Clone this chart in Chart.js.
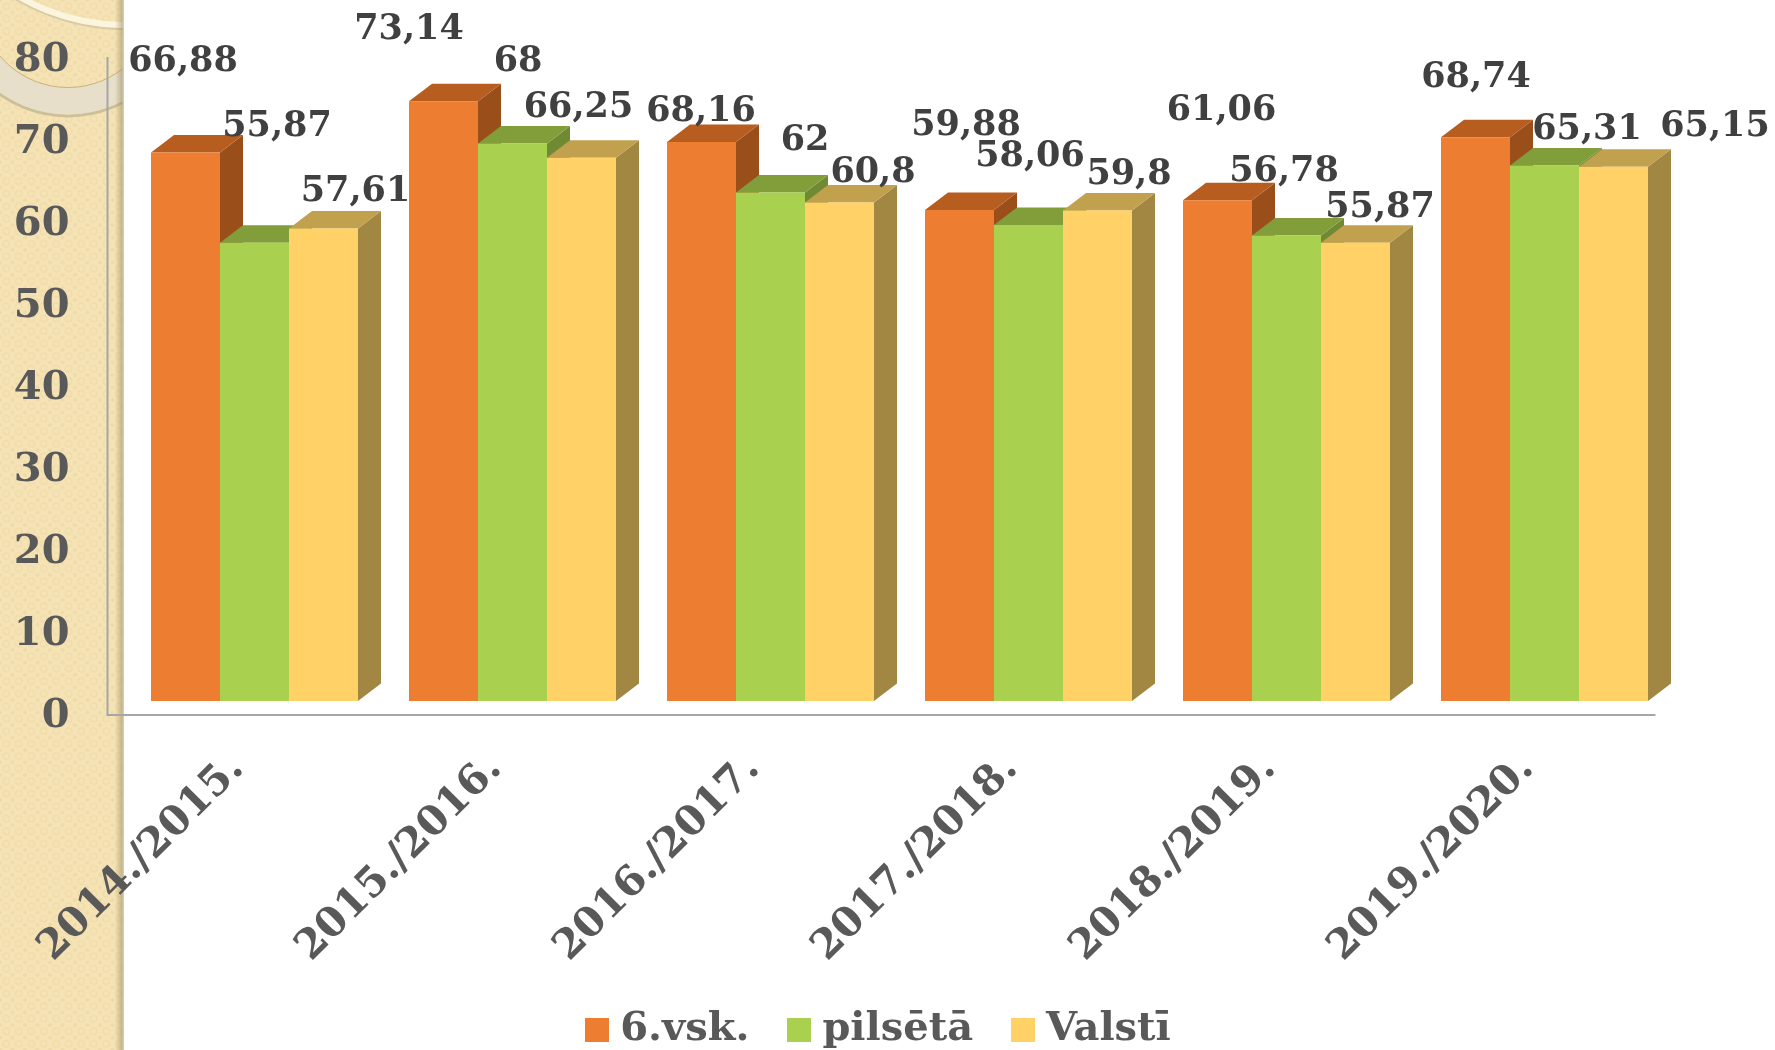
<!DOCTYPE html>
<html><head><meta charset="utf-8">
<style>html,body{margin:0;padding:0;background:#fff;overflow:hidden}
#bg{position:absolute;left:0;top:0}
#wrap{position:absolute;left:0;top:0;width:1775px;height:1050px}</style>
<script src="https://cdn.jsdelivr.net/npm/chart.js@4"></script>
</head><body>
<svg id="bg" width="1775" height="1050" xmlns="http://www.w3.org/2000/svg">
<defs>
<pattern id="p" width="12.5" height="12.5" patternUnits="userSpaceOnUse">
<rect width="12.5" height="12.5" fill="#F5E3B6"/>
<circle cx="6.2" cy="6.2" r="3.2" fill="none" stroke="#F0DCA8" stroke-width="1.3"/>
<circle cx="0" cy="0" r="2" fill="#EFDBA8"/><circle cx="12.5" cy="0" r="2" fill="#EFDBA8"/>
<circle cx="0" cy="12.5" r="2" fill="#EFDBA8"/><circle cx="12.5" cy="12.5" r="2" fill="#EFDBA8"/>
</pattern>
<linearGradient id="edge" x1="0" x2="1"><stop offset="0" stop-color="#8A7A50" stop-opacity="0"/><stop offset="1" stop-color="#8A7A50" stop-opacity=".5"/></linearGradient>
<clipPath id="band"><rect width="123" height="1050"/></clipPath>
</defs>
<rect width="123" height="1050" fill="url(#p)"/>
<g clip-path="url(#band)" fill="none">
<circle cx="68" cy="-2" r="118" stroke="#CDBF9A" stroke-width="3"/>
<circle cx="68" cy="-2" r="103" stroke="#E7DFCA" stroke-width="27"/>
<circle cx="68" cy="-2" r="89.5" stroke="#C9B37A" stroke-width="1"/>
<circle cx="125" cy="-187" r="216" stroke="#D8CBA6" stroke-width="2"/>
<circle cx="125" cy="-187" r="212" stroke="#FCF5DE" stroke-width="6"/>
</g>
<rect x="115" width="8" height="1050" fill="url(#edge)"/>
<rect x="122.5" width="1.5" height="1050" fill="#D5CBB0"/>
</svg>
<div id="wrap"><canvas id="c" width="1775" height="1050"></canvas></div>
<script>
const categories = ['2014./2015.','2015./2016.','2016./2017.','2017./2018.','2018./2019.','2019./2020.'];
const vsk6 =    [66.88,73.14,68.16,59.88,61.06,68.74];
const pilseta = [55.87,68,62,58.06,56.78,65.31];
const valsti =  [57.61,66.25,60.8,59.8,55.87,65.15];
const yTicks = [0,10,20,30,40,50,60,70,80];
const seriesNames = ['6.vsk.','pilsētā','Valstī'];
const frontColors = ['#ED7D31','#A9D14F','#FFD166'];
const topColors = ['#B85D20','#819E3B','#C1A04E'];
const sideColors = ['#9A4F1A','#6F8A33','#A28743'];
const labelDx = [[-2.5,-34.5,-0.5,6.5,4,0.5],[22.5,5.5,34.5,1.5,-2.5,42.5],[32,-3,33.5,31.5,24.5,101.5]];
const labelDy = [[-91,-71,-30,-84,-89,-59],[-116,-81,-52,-67.5,-63,-36],[-37,-50,-30,-36,-35,-40]];
const DEPTH_X = 23, DEPTH_Y = 17.5;
const FONT = '"DejaVu Serif"';

function swatch(color){
  const s=document.createElement('canvas'); s.width=24; s.height=24;
  const g=s.getContext('2d'); g.fillStyle=color; g.fillRect(0,0,24,24); return s;
}
const swatches = frontColors.map(swatch);

const extrude = {
  id:'extrude',
  afterLayout(chart){ chart.scales.x.bottom += 30; },
  beforeDatasetsDraw(chart){
    const ctx=chart.ctx; ctx.save();
    chart.data.datasets.forEach((d,di)=>{
      chart.getDatasetMeta(di).data.forEach(b=>{
        const hw=b.width/2, l=b.x-hw, r=b.x+hw, t=b.y, bt=b.base;
        ctx.fillStyle=sideColors[di];
        ctx.beginPath();ctx.moveTo(r,t);ctx.lineTo(r+DEPTH_X,t-DEPTH_Y);ctx.lineTo(r+DEPTH_X,bt-DEPTH_Y);ctx.lineTo(r,bt);ctx.closePath();ctx.fill();
        ctx.fillStyle=topColors[di];
        ctx.beginPath();ctx.moveTo(l,t);ctx.lineTo(l+DEPTH_X,t-DEPTH_Y);ctx.lineTo(r+DEPTH_X,t-DEPTH_Y);ctx.lineTo(r,t);ctx.closePath();ctx.fill();
      });
    });
    ctx.restore();
  },
  afterDatasetsDraw(chart){
    const ctx=chart.ctx; ctx.save();
    ctx.font='bold 35px '+FONT; ctx.fillStyle='#404040'; ctx.textAlign='center'; ctx.textBaseline='middle';
    chart.data.datasets.forEach((d,di)=>{
      chart.getDatasetMeta(di).data.forEach((b,i)=>{
        ctx.fillText(String(d.data[i]).replace('.',','), b.x+labelDx[di][i], b.y+labelDy[di][i]);
      });
    });
    ctx.restore();
  },
  beforeDraw(chart){
    const a=chart.chartArea, ctx=chart.ctx, x=a.left-18;
    ctx.save(); ctx.strokeStyle='#A6A6A6'; ctx.lineWidth=2;
    ctx.beginPath(); ctx.moveTo(x,a.top-1); ctx.lineTo(x,a.bottom+1); ctx.lineTo(a.right-18,a.bottom+1); ctx.stroke();
    ctx.restore();
  }
};

new Chart(document.getElementById('c'),{
  type:'bar',
  plugins:[extrude],
  data:{labels:categories,datasets:[
    {label:seriesNames[0],data:vsk6,backgroundColor:frontColors[0],yAxisID:'yb'},
    {label:seriesNames[1],data:pilseta,backgroundColor:frontColors[1],yAxisID:'yb'},
    {label:seriesNames[2],data:valsti,backgroundColor:frontColors[2],yAxisID:'yb'}
  ]},
  options:{
    responsive:false,animation:false,
    devicePixelRatio:1,
    layout:{padding:{top:58,right:10,bottom:-10,left:0}},
    datasets:{bar:{categoryPercentage:207/258,barPercentage:1,borderWidth:0}},
    plugins:{
      tooltip:{enabled:false},
      legend:{position:'bottom',labels:{
        usePointStyle:true,pointStyleWidth:6,padding:47,
        font:{family:FONT,size:40,weight:'bold'},color:'#595959',
        generateLabels(chart){
          return chart.data.datasets.map((d,i)=>({text:d.label,pointStyle:swatches[i],fillStyle:d.backgroundColor,strokeStyle:d.backgroundColor,lineWidth:0,hidden:false,datasetIndex:i,fontColor:'#595959'}));
        }
      }}
    },
    scales:{
      x:{
        grid:{display:false},border:{display:false},
        afterFit(s){s.height=249;},
        ticks:{autoSkip:false,maxRotation:45,minRotation:45,padding:23,labelOffset:-17,color:'#595959',font:{family:FONT,size:41,weight:'bold'}}
      },
      y:{
        min:0,max:80,position:'left',grid:{display:false},border:{display:false},
        afterFit(s){s.width=125.5;s.paddingTop=0;s.paddingBottom=0;},
        afterBuildTicks(s){s.ticks=yTicks.map(v=>({value:v}));},
        ticks:{padding:48,labelOffset:3,color:'#595959',font:{family:FONT,size:40,weight:'bold'}}
      },
      yb:{
        position:'right',min:-13/8.1875,max:80-13/8.1875,
        grid:{display:false},border:{display:false},ticks:{display:false},
        afterFit(s){s.width=91.5;s.paddingTop=0;s.paddingBottom=0;}
      }
    }
  }
});
</script>
</body></html>
